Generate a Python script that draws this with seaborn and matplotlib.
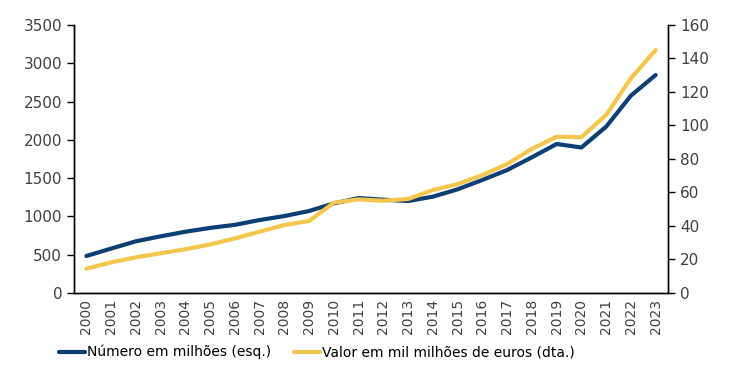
import matplotlib
matplotlib.use("Agg")
import matplotlib.pyplot as plt
import seaborn as sns
import pandas as pd
from matplotlib.lines import Line2D
from matplotlib.ticker import FixedLocator

years = [str(y) for y in range(2000, 2024)]
numero = [483, 580, 675, 740, 800, 850, 890, 953, 1005, 1071, 1170, 1240,
          1218, 1201, 1258, 1354, 1476, 1606, 1772, 1946, 1900, 2172, 2577, 2847]
valor = [14.5, 18.3, 21.3, 23.7, 26.1, 29.0, 32.6, 36.6, 40.6, 43.0, 53.9, 55.9,
         55.1, 56.1, 61.5, 65.0, 70.4, 77.0, 86.0, 93.3, 93.0, 106.3, 128.2, 145.0]
label_num = "Número em milhões (esq.)"
label_val = "Valor em mil milhões de euros (dta.)"

BLUE = "#0c3f73"
YELLOW = "#f4c64e"
TICK = "#404040"

sns.set_style("white")
plt.rcParams['font.family'] = ['DejaVu Sans']

df = pd.DataFrame({"idx": range(len(years)), "numero": numero, "valor": valor})

fig = plt.figure(figsize=(7.37, 3.73), dpi=100)
ax = fig.add_axes([0.1004, 0.2145, 0.806, 0.7185])
ax2 = ax.twinx()

sns.lineplot(data=df, x="idx", y="numero", ax=ax, color=BLUE, lw=3, legend=False)
sns.lineplot(data=df, x="idx", y="valor", ax=ax2, color=YELLOW, lw=3, legend=False)
ax2.set_zorder(ax.get_zorder() + 1)
ax.patch.set_visible(False)

ax.set_xlim(-0.5, len(years) - 0.5)
ax.set_ylim(0, 3500)
ax2.set_ylim(0, 160)
ax.set_yticks(range(0, 3501, 500))
ax2.set_yticks(range(0, 161, 20))
ax.set_xticks(range(len(years)))
ax.set_xticklabels(years, rotation=90, fontsize=10, color=TICK)
ax.xaxis.set_minor_locator(FixedLocator([i - 0.5 for i in range(len(years) + 1)]))
ax.tick_params(axis="x", which="major", length=0, pad=4)
ax.tick_params(axis="x", which="minor", length=5, width=1, color="black", direction="out")
ax.tick_params(axis="y", length=5, width=1, color="black", direction="out", labelsize=11, labelcolor=TICK, left=True)
ax2.tick_params(axis="y", length=5, width=1, color="black", direction="out", labelsize=11, labelcolor=TICK, right=True)
ax.set_xlabel("")
ax.set_ylabel("")
ax2.set_ylabel("")

for a in (ax, ax2):
    a.spines["top"].set_visible(False)
    for s in ("left", "right", "bottom"):
        a.spines[s].set_color("black")
        a.spines[s].set_linewidth(1)
    a.grid(False)

handles = [Line2D([0], [0], color=BLUE, lw=3), Line2D([0], [0], color=YELLOW, lw=3)]
leg = fig.legend(handles, [label_num, label_val], loc="center", bbox_to_anchor=(0.43, 0.056),
                 ncol=2, frameon=False, handlelength=1.9, handletextpad=0.15, columnspacing=1.6,
                 borderpad=0, borderaxespad=0,
                 prop={"family": ["DejaVu Sans"], "size": 10})
for t in leg.get_texts():
    t.set_color("black")

fig.savefig("out.png", dpi=100)
